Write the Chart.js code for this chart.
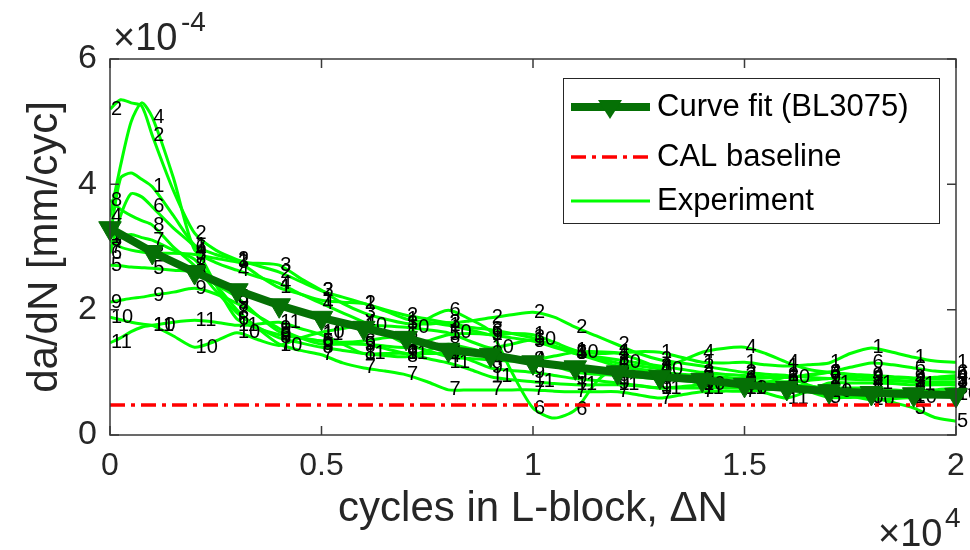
<!DOCTYPE html>
<html><head><meta charset="utf-8">
<script src="https://cdn.jsdelivr.net/npm/chart.js@4/dist/chart.umd.min.js"></script>
<style>html,body{margin:0;padding:0;background:#fff;}canvas{display:block;}</style>
</head><body>
<canvas id="c" width="970" height="550"></canvas>
<script>
const FONT = '"Liberation Sans", Arial, Helvetica, sans-serif';

// x grid (cycles) shared by the experiment curves
const expCycles = [0,250,500,750,1000,1500,2000,2500,3000,3500,4000,4500,5000,5500,6000,6500,7000,7500,8000,8500,9000,9500,10000,10500,11000,11500,12000,12500,13000,13500,14000,14500,15000,15500,16000,16500,17000,17500,18000,18500,19000,19500,20000];

// experiment da/dN values, units of 1e-4 mm/cyc
const exp1  = [3.15,4.10,4.18,4.08,3.96,3.50,3.03,2.88,2.78,2.55, 2.35,2.25,2.15,2.12,2.10,1.98,1.85,1.80,1.75,1.68, 1.60,1.62,1.60,1.48,1.35,1.30,1.31,1.33,1.32,1.24, 1.16,1.15,1.16,1.12,1.10,1.12,1.15,1.30,1.39,1.32, 1.24,1.18,1.16];
const exp2  = [5.20,5.35,5.30,5.25,4.78,3.90,3.22,2.95,2.80,2.70, 2.60,2.45,2.30,2.20,2.10,2.00,1.91,1.85,1.79,1.82, 1.87,1.92,1.96,1.88,1.72,1.58,1.44,1.30,1.20,1.15, 1.10,1.05,1.00,0.97,0.95,0.92,0.90,0.89,0.88,0.86, 0.85,0.82,0.80];
const exp3  = [3.10,3.00,2.95,2.92,2.90,2.90,2.88,2.82,2.76,2.74, 2.71,2.50,2.31,2.10,1.95,1.85,1.78,1.77,1.79,1.72, 1.68,1.62,1.55,1.42,1.30,1.25,1.20,1.15,1.10,1.05, 1.00,0.97,0.95,0.93,0.92,0.96,1.00,0.95,0.90,0.88, 0.85,0.85,0.85];
const exp4  = [3.48,4.30,5.00,5.30,5.07,4.10,2.95,2.75,2.63,2.52, 2.42,2.25,2.10,1.95,1.80,1.62,1.45,1.35,1.25,1.22, 1.20,1.18,1.20,1.26,1.32,1.33,1.31,1.20,1.08,1.18, 1.32,1.38,1.40,1.30,1.16,1.05,1.00,0.97,0.95,0.92, 0.90,0.92,0.95];
const exp5  = [2.71,2.70,2.68,2.67,2.66,2.63,2.60,2.40,2.20,1.90, 1.65,1.55,1.50,1.47,1.45,1.42,1.40,1.50,1.60,1.62, 1.60,1.55,1.50,1.40,1.30,1.20,1.10,1.05,1.00,0.95, 0.90,0.87,0.85,0.82,0.80,0.70,0.60,0.60,0.60,0.52, 0.43,0.28,0.22];
const exp6  = [2.90,3.50,3.85,3.80,3.64,3.30,3.00,2.40,1.85,1.70, 1.60,1.55,1.50,1.48,1.50,1.55,1.60,1.85,1.99,1.85, 1.65,1.00,0.43,0.27,0.40,0.85,1.10,1.05,1.00,0.97, 0.95,0.92,0.90,0.91,0.92,0.95,1.00,1.08,1.15,1.12, 1.07,1.02,1.00];
const exp7  = [3.00,3.15,3.20,3.15,3.11,2.95,2.80,2.40,2.00,1.70, 1.45,1.35,1.28,1.15,1.07,1.02,0.96,0.85,0.72,0.72, 0.72,0.72,0.72,0.70,0.69,0.69,0.69,0.64,0.59,0.64, 0.69,0.70,0.70,0.72,0.75,0.72,0.70,0.70,0.70,0.68, 0.65,0.68,0.70];
const exp8  = [3.75,3.60,3.50,3.42,3.35,3.00,2.70,2.30,1.95,1.72, 1.55,1.47,1.40,1.35,1.30,1.27,1.25,1.35,1.45,1.38, 1.30,1.25,1.20,1.10,1.00,0.97,0.95,0.92,0.90,0.87, 0.85,0.82,0.80,0.80,0.80,0.78,0.75,0.75,0.75,0.72, 0.70,0.72,0.75];
const exp9  = [2.12,2.15,2.18,2.20,2.23,2.28,2.34,2.25,2.10,1.90, 1.70,1.55,1.45,1.45,1.45,1.38,1.30,1.30,1.30,1.20, 1.07,1.03,1.00,0.95,0.90,0.87,0.83,0.79,0.75,0.77, 0.80,0.82,0.85,0.85,0.85,0.87,0.90,0.92,0.95,0.93, 0.91,0.90,0.90];
const exp10 = [1.88,1.84,1.80,1.77,1.75,1.58,1.40,1.50,1.63,1.52, 1.43,1.55,1.64,1.70,1.75,1.74,1.72,1.68,1.63,1.50, 1.39,1.45,1.52,1.42,1.32,1.23,1.15,1.10,1.05,0.92, 0.80,0.77,0.75,0.83,0.92,0.80,0.70,0.62,0.56,0.58, 0.60,0.62,0.65];
const exp11 = [1.47,1.55,1.65,1.72,1.75,1.80,1.83,1.80,1.75,1.77, 1.80,1.70,1.60,1.45,1.30,1.30,1.30,1.22,1.15,1.05, 0.93,0.88,0.85,0.82,0.80,0.80,0.80,0.78,0.75,0.75, 0.75,0.75,0.75,0.67,0.59,0.70,0.83,0.83,0.83,0.82, 0.80,0.80,0.80];
const expSeries = [exp1,exp2,exp3,exp4,exp5,exp6,exp7,exp8,exp9,exp10,exp11];
const expNames = ['1','2','3','4','5','6','7','8','9','10','11'];

// curve fit (BL3075), every 1000 cycles
const fitCycles = [0,1000,2000,3000,4000,5000,6000,7000,8000,9000,10000,11000,12000,13000,14000,15000,16000,17000,18000,19000,20000];
const fitRate = [3.30,2.92,2.60,2.31,2.07,1.87,1.71,1.55,1.36,1.28,1.16,1.08,1.00,0.93,0.88,0.80,0.75,0.70,0.67,0.65,0.64];

// CAL baseline
const baselineCycles = [0,20000];
const baselineRate = [0.48,0.48];

const xTickLabels = {0:'0',5000:'0.5',10000:'1',15000:'1.5',20000:'2'};
const yTickLabels = {0:'0',2:'2',4:'4',6:'6'};

const DG = '#057005';
const LG = '#00ff00';
const RED = '#ff0000';
const AX = '#262626';

const datasets = [
  {label:'Curve fit (BL3075)', data: fitCycles.map((x,i)=>({x, y: fitRate[i]})), borderColor: DG, backgroundColor: DG,
   borderWidth: 8, pointStyle:'triangle', rotation:180, pointRadius:13, pointBackgroundColor:DG, pointBorderColor:DG, pointBorderWidth:1, clip:false, tension:0},
  {label:'CAL baseline', data: baselineCycles.map((x,i)=>({x, y: baselineRate[i]})), borderColor: RED, borderWidth:3.5, borderDash:[15,6,4,6], pointRadius:0},
];
expSeries.forEach((s,k)=>{
  datasets.push({label: k===0 ? 'Experiment' : 'Experiment '+expNames[k], data: expCycles.map((x,i)=>({x, y: s[i]})),
    borderColor: LG, borderWidth: 3, pointRadius:0, tension:0.25});
});

const labelsPlugin = {
  id:'labelsPlugin',
  afterDatasetDraw(chart, args){
    if (args.index !== 2) return;
    const ctx = chart.ctx, xs = chart.scales.x, ys = chart.scales.y;
    ctx.save();
    ctx.font = '20px ' + FONT;
    ctx.fillStyle = '#000';
    ctx.textAlign = 'left';
    ctx.textBaseline = 'middle';
    expSeries.forEach((s,k)=>{
      expCycles.forEach((c,i)=>{
        if (c % 1000 !== 0) return;
        ctx.fillText(expNames[k], xs.getPixelForValue(c)+1, ys.getPixelForValue(s[i]));
      });
    });
    ctx.restore();
  }
};

const framePlugin = {
  id:'framePlugin',
  afterDatasetsDraw(chart){
    const ctx = chart.ctx, a = chart.chartArea, xs = chart.scales.x, ys = chart.scales.y;
    ctx.save();
    ctx.strokeStyle = '#3a3a3a';
    ctx.lineWidth = 1.5;
    ctx.strokeRect(a.left, a.top, a.right - a.left, a.bottom - a.top);
    ctx.beginPath();
    Object.keys(xTickLabels).forEach(v=>{
      const px = xs.getPixelForValue(+v);
      ctx.moveTo(px, a.bottom); ctx.lineTo(px, a.bottom - 9);
      ctx.moveTo(px, a.top); ctx.lineTo(px, a.top + 9);
    });
    Object.keys(yTickLabels).forEach(v=>{
      const py = ys.getPixelForValue(+v);
      ctx.moveTo(a.left, py); ctx.lineTo(a.left + 9, py);
      ctx.moveTo(a.right, py); ctx.lineTo(a.right - 9, py);
    });
    ctx.stroke();

    // exponent labels
    ctx.fillStyle = AX;
    ctx.textBaseline = 'alphabetic';
    ctx.textAlign = 'left';
    ctx.font = '38px ' + FONT;
    ctx.fillText('\u00d710', 113, 50);
    ctx.font = '28px ' + FONT;
    ctx.fillText('-4', 181, 31);
    ctx.font = '38px ' + FONT;
    ctx.fillText('\u00d710', 878, 546);
    ctx.font = '28px ' + FONT;
    ctx.fillText('4', 945, 527);

    // legend
    const L = {x:563, y:78, w:376, h:145};
    ctx.fillStyle = '#fff';
    ctx.fillRect(L.x, L.y, L.w, L.h);
    ctx.strokeStyle = AX; ctx.lineWidth = 1;
    ctx.strokeRect(L.x+0.5, L.y+0.5, L.w, L.h);
    const rows = [107, 157, 201];
    ctx.strokeStyle = DG; ctx.lineWidth = 8; ctx.setLineDash([]);
    ctx.beginPath(); ctx.moveTo(571, rows[0]); ctx.lineTo(650, rows[0]); ctx.stroke();
    ctx.fillStyle = DG;
    ctx.beginPath();
    ctx.moveTo(598, rows[0]-7); ctx.lineTo(622, rows[0]-7); ctx.lineTo(610, rows[0]+12); ctx.closePath(); ctx.fill();
    ctx.strokeStyle = RED; ctx.lineWidth = 3.5; ctx.setLineDash([15,6,4,6]);
    ctx.beginPath(); ctx.moveTo(571, rows[1]); ctx.lineTo(650, rows[1]); ctx.stroke();
    ctx.setLineDash([]);
    ctx.strokeStyle = LG; ctx.lineWidth = 3;
    ctx.beginPath(); ctx.moveTo(571, rows[2]); ctx.lineTo(650, rows[2]); ctx.stroke();
    ctx.fillStyle = '#000';
    ctx.font = '31px ' + FONT;
    ctx.textBaseline = 'middle';
    ctx.fillText('Curve fit (BL3075)', 657, rows[0]);
    ctx.fillText('CAL baseline', 657, rows[1]);
    ctx.fillText('Experiment', 657, rows[2]);
    ctx.restore();
  }
};

new Chart(document.getElementById('c'), {
  type:'line',
  data:{datasets},
  options:{
    responsive:false, animation:false, devicePixelRatio:1,
    layout:{padding:{top:59, right:4, left:0, bottom:0}},
    plugins:{legend:{display:false}, tooltip:{enabled:false}, title:{display:false}},
    scales:{
      x:{type:'linear', min:0, max:20000,
        afterFit(s){ s.height = 115; s.paddingLeft = 0; s.paddingRight = 0; },
        afterBuildTicks(s){ s.ticks = Object.keys(xTickLabels).map(v=>({value:+v})); },
        ticks:{callback:(v)=>xTickLabels[v] ?? '', font:{size:32, family:FONT}, color:AX, padding:12, maxRotation:0, autoSkip:false},
        grid:{display:false, drawTicks:false}, border:{display:false},
        title:{display:true, text:'cycles in L-block, \u0394N', font:{size:42, family:FONT}, color:AX, padding:{top:0, bottom:15}}
      },
      y:{type:'linear', min:0, max:6,
        afterFit(s){ s.width = 110; s.paddingTop = 0; s.paddingBottom = 0; },
        afterBuildTicks(s){ s.ticks = Object.keys(yTickLabels).map(v=>({value:+v})); },
        ticks:{callback:(v)=>yTickLabels[v] ?? '', font:{size:34, family:FONT}, color:AX, padding:13},
        grid:{display:false, drawTicks:false}, border:{display:false},
        title:{display:true, text:'da/dN [mm/cyc]', font:{size:42, family:FONT}, color:AX, padding:{top:20, bottom:0}}
      }
    }
  },
  plugins:[labelsPlugin, framePlugin]
});
</script>
</body></html>
